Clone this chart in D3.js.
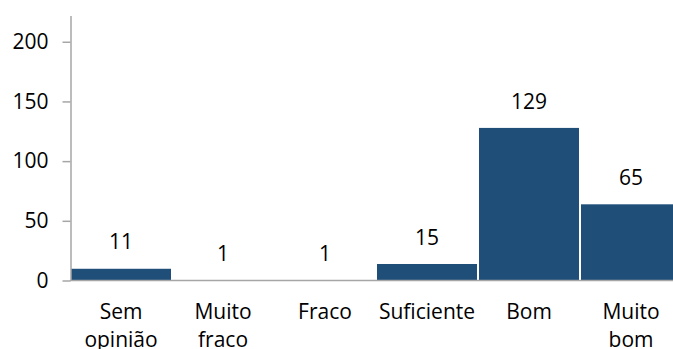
<!DOCTYPE html>
<html>
<head>
<meta charset="utf-8">
<script src="https://cdn.jsdelivr.net/npm/d3@7/dist/d3.min.js"></script>
<style>
  html, body { margin: 0; padding: 0; background: #fff; }
  svg { display: block; }
  text { font-family: "Open Sans", Lato, sans-serif; fill: #000; }
</style>
</head>
<body>
<svg id="chart" width="673" height="349"></svg>
<script>
// Ratings and number of answers per rating
const categories = ["Sem opinião", "Muito fraco", "Fraco", "Suficiente", "Bom", "Muito bom"];
const counts = [11, 1, 1, 15, 129, 65];
const yTicks = [0, 50, 100, 150, 200];

const svg = d3.select("#chart");
const width = 673, height = 349;
const axisColor = "#a6a6a6";
const barColor = "#1f4e79";
const fontSize = 21;
const fontFamily = "'Open Sans', Lato, sans-serif";
const barInset = 1.4; // bars sit just under the baseline stroke

// Plot frame: left axis at x=70, baseline at y=280.5
const x = d3.scaleBand()
  .domain(categories)
  .range([70, 682])
  .paddingInner(2 / 102)
  .paddingOuter(1 / 102);

const y = d3.scaleLinear()
  .domain([0, 222])
  .range([280.5, 15.5]);

// Bars
svg.append("g")
  .selectAll("rect")
  .data(categories)
  .join("rect")
  .attr("x", d => x(d))
  .attr("width", x.bandwidth())
  .attr("y", (d, i) => y(counts[i]) + barInset)
  .attr("height", (d, i) => Math.max(0, y(0) - y(counts[i]) - barInset))
  .attr("fill", barColor);

// Value labels above each bar
svg.append("g")
  .selectAll("text")
  .data(categories)
  .join("text")
  .attr("x", d => x(d) + x.bandwidth() / 2)
  .attr("y", (d, i) => y(counts[i]) - 18)
  .attr("text-anchor", "middle")
  .attr("font-size", fontSize)
  .text((d, i) => counts[i]);

// Y axis
const yAxis = svg.append("g")
  .attr("transform", "translate(70.5,0)")
  .call(d3.axisLeft(y).tickValues(yTicks).tickSize(8).tickPadding(14).tickSizeOuter(0));
yAxis.select(".domain").attr("stroke", axisColor).attr("stroke-width", 1.5);
yAxis.selectAll(".tick line").attr("stroke", axisColor).attr("stroke-width", 1.5);
yAxis.selectAll(".tick text")
  .attr("font-size", fontSize)
  .attr("font-family", fontFamily)
  .attr("fill", "#000");

// X axis baseline with wrapped category labels
const xAxis = svg.append("g")
  .attr("transform", `translate(0,${y(0)})`)
  .call(d3.axisBottom(x).tickSize(0).tickSizeOuter(0).tickPadding(0));
xAxis.select(".domain").attr("stroke", axisColor).attr("stroke-width", 1.5)
  .attr("d", `M70,0H${width}`);
xAxis.selectAll(".tick text")
  .attr("font-size", fontSize)
  .attr("font-family", fontFamily)
  .attr("fill", "#000")
  .attr("dy", null)
  .attr("y", 0)
  .each(function(d) {
    const t = d3.select(this);
    const words = d.split(" ");
    t.text(null);
    words.forEach((w, i) => {
      t.append("tspan")
        .attr("x", 0)
        .attr("y", 38.8 + i * 27.4)
        .text(w);
    });
  });
</script>
</body>
</html>
